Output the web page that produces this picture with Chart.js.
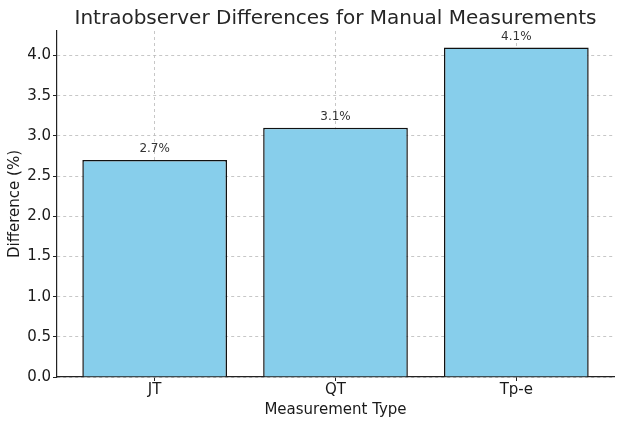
<!DOCTYPE html>
<html>
<head>
<meta charset="utf-8">
<script src="https://cdn.jsdelivr.net/npm/chart.js@4.4.0/dist/chart.umd.min.js"></script>
<style>
  html, body { margin: 0; padding: 0; background: #fff; }
  #wrap { width: 634px; height: 433px; }
</style>
</head>
<body>
<div id="wrap"><canvas id="grafico"></canvas></div>
<script>
var etiquetas = ['JT', 'QT', 'Tp-e'];
var valores = [2.7, 3.1, 4.1];
var ticksY = [0, 0.5, 1, 1.5, 2, 2.5, 3, 3.5, 4];

Chart.defaults.font.family = 'DejaVu Sans';
Chart.defaults.color = '#1a1a1a';

// texto encima de cada barra
var etiquetasBarras = {
  id: 'etiquetasBarras',
  afterDatasetsDraw: function (chart) {
    var ctx = chart.ctx;
    var meta = chart.getDatasetMeta(0);
    ctx.save();
    ctx.font = '12px "DejaVu Sans"';
    ctx.fillStyle = '#333';
    ctx.textAlign = 'center';
    ctx.textBaseline = 'bottom';
    meta.data.forEach(function (bar, i) {
      ctx.fillText(valores[i].toFixed(1) + '%', bar.x, bar.y - 5);
    });
    ctx.restore();
  }
};

var puntos = valores.map(function (v, i) { return { x: i, y: v }; });

new Chart(document.getElementById('grafico'), {
  type: 'bar',
  plugins: [etiquetasBarras],
  data: {
    datasets: [{
      label: 'Difference',
      data: puntos,
      backgroundColor: '#87CEEB',
      borderColor: '#111',
      borderWidth: 1.5,
      categoryPercentage: 0.8,
      barPercentage: 1
    }]
  },
  options: {
    responsive: true,
    maintainAspectRatio: false,
    animation: false,
    layout: { padding: { left: 0, right: 20, top: 0, bottom: 0 } },
    plugins: {
      legend: { display: false },
      tooltip: { enabled: false },
      title: {
        display: true,
        fullSize: false,
        text: 'Intraobserver Differences for Manual Measurements',
        color: '#262626',
        font: { size: 20, weight: 'normal' },
        padding: { top: 7, bottom: 0 }
      }
    },
    scales: {
      x: {
        type: 'linear',
        min: -0.54,
        max: 2.54,
        offset: false,
        z: 1,
        afterBuildTicks: function (scale) {
          scale.ticks = etiquetas.map(function (e, i) { return { value: i }; });
        },
        afterFit: function (scale) { scale.height = 56; },
        ticks: {
          font: { size: 15 },
          color: '#1a1a1a',
          padding: 0,
          callback: function (v) { return etiquetas[v]; }
        },
        grid: {
          offset: false,
          color: 'rgba(185,185,185,0.8)',
          tickColor: '#222',
          tickLength: 4
        },
        border: { color: '#222', width: 1.2, dash: [3, 3] },
        title: {
          display: true,
          text: 'Measurement Type',
          font: { size: 15 },
          color: '#1a1a1a',
          padding: { top: 1, bottom: 14 }
        }
      },
      y: {
        min: 0,
        max: 4.305,
        z: 1,
        afterBuildTicks: function (scale) {
          scale.ticks = ticksY.map(function (v) { return { value: v }; });
        },
        afterFit: function (scale) { scale.width = 57; },
        ticks: {
          font: { size: 15 },
          color: '#1a1a1a',
          padding: 2,
          callback: function (v) { return v.toFixed(1); }
        },
        grid: {
          color: 'rgba(185,185,185,0.8)',
          tickColor: '#222',
          tickLength: 4
        },
        border: { color: '#222', width: 1.2, dash: [3, 3] },
        title: {
          display: true,
          text: 'Difference (%)',
          font: { size: 15 },
          color: '#1a1a1a',
          padding: { top: 6, bottom: 0 }
        }
      }
    }
  }
});
</script>
</body>
</html>
